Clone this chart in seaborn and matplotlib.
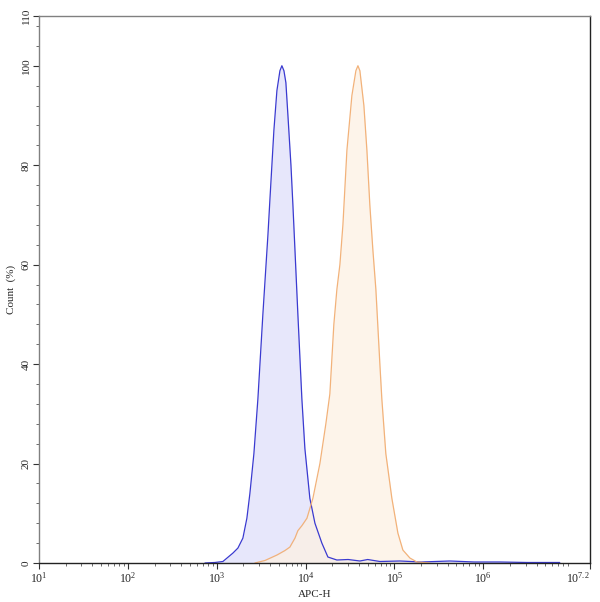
import numpy as np
import pandas as pd
import matplotlib
matplotlib.use("Agg")
import matplotlib.pyplot as plt
import matplotlib.ticker as mticker
import seaborn as sns

# log10(APC-H) positions and Count (%)
blue_log = [2.868, 2.980, 3.070, 3.183, 3.239, 3.295, 3.340, 3.374, 3.419, 3.464,
            3.520, 3.577, 3.599, 3.644, 3.678, 3.712, 3.734, 3.757, 3.779, 3.802,
            3.836, 3.858, 3.881, 3.914, 3.959, 3.993, 4.049, 4.106, 4.184, 4.252,
            4.353, 4.480, 4.612, 4.700, 4.837, 5.062, 5.300, 5.625, 5.900, 6.187,
            6.500, 6.862]
blue_count = [0.0, 0.1, 0.3, 2.0, 3.0, 5.0, 9.0, 14.0, 22.0, 33.0,
              50.0, 66.0, 73.0, 87.0, 95.0, 99.0, 100.0, 99.0, 96.6, 90.0,
              80.0, 72.0, 63.0, 50.0, 33.0, 23.0, 13.0, 8.0, 4.0, 1.2,
              0.6, 0.7, 0.4, 0.7, 0.3, 0.4, 0.2, 0.4, 0.2, 0.2,
              0.1, 0.1]

orange_log = [3.430, 3.543, 3.678, 3.768, 3.824, 3.881, 3.914, 3.959, 4.016, 4.083,
              4.162, 4.229, 4.274, 4.319, 4.353, 4.387, 4.421, 4.466, 4.522, 4.567,
              4.590, 4.612, 4.657, 4.691, 4.724, 4.758, 4.792, 4.837, 4.859, 4.904,
              4.972, 5.040, 5.096, 5.175, 5.254, 5.400]
orange_count = [0.0, 0.5, 1.6, 2.5, 3.2, 5.0, 6.5, 7.5, 9.0, 13.0,
                20.0, 28.0, 34.0, 48.0, 55.0, 60.0, 68.0, 83.0, 94.0, 99.0,
                100.0, 99.0, 92.0, 83.0, 72.0, 63.0, 55.0, 40.0, 33.0, 22.0,
                13.0, 6.0, 2.6, 1.0, 0.2, 0.0]

y_ticks = [0, 20, 40, 60, 80, 100, 110]
x_decades = [1, 2, 3, 4, 5, 6, 7.2]

sns.set_style("white")
plt.rcParams['font.family'] = ['Liberation Serif', 'DejaVu Serif']
plt.rcParams['mathtext.fontset'] = 'custom'
plt.rcParams['mathtext.rm'] = 'Liberation Serif'
plt.rcParams['mathtext.it'] = 'Liberation Serif:italic'

blue = pd.DataFrame({'apc': np.power(10.0, blue_log), 'count': blue_count})
orange = pd.DataFrame({'apc': np.power(10.0, orange_log), 'count': orange_count})

fig = plt.figure(figsize=(6, 6.02), dpi=100)
ax = fig.add_axes([0.065, 0.0648, 0.918, 0.9086])

ax.fill_between(blue['apc'], blue['count'], color='#e3e3fb', alpha=0.85, lw=0)
ax.fill_between(orange['apc'], orange['count'], color='#fdf1e3', alpha=0.75, lw=0)
sns.lineplot(data=blue, x='apc', y='count', ax=ax, color='#3a3ad0', lw=0.9)
sns.lineplot(data=orange, x='apc', y='count', ax=ax, color='#f2b27a', lw=0.9)

ax.set_xscale('log')
ax.set_xlim(10, 10 ** 7.2)
ax.set_ylim(0, 110)

ax.set_xticks([10 ** d for d in x_decades])
ax.set_xticklabels([r'$10^{%s}$' % (int(d) if d == int(d) else d) for d in x_decades])
ax.xaxis.set_minor_locator(mticker.LogLocator(base=10, subs=np.arange(2, 10), numticks=20))
ax.xaxis.set_minor_formatter(mticker.NullFormatter())

ax.set_yticks(y_ticks)
ax.set_yticklabels([str(v) for v in y_ticks], rotation=90, va='center')
ax.yaxis.set_minor_locator(mticker.MultipleLocator(4))

# seaborn "white" hides ticks, switch them back on
ax.tick_params(axis='both', which='both', bottom=True, left=True, top=False, right=False)
ax.tick_params(axis='both', which='major', direction='out', length=4, width=0.8,
               labelsize=8, pad=2, color='#333333')
ax.tick_params(axis='x', which='major', labelsize=8.5)
ax.tick_params(axis='both', which='minor', direction='out', length=2, width=0.6,
               color='#555555')
# keep the last x label inside the figure
ax.get_xticklabels()[-1].set_horizontalalignment('right')
ax.get_xticklabels()[-1].set_x(10 ** 7.2)

ax.set_xlabel('APC-H', fontsize=8, labelpad=3)
ax.set_ylabel('Count  (%)', fontsize=8, labelpad=4)

ax.spines['left'].set_color('#808080')
ax.spines['top'].set_color('#808080')
ax.spines['bottom'].set_color('#222222')
ax.spines['right'].set_color('#222222')
for s in ax.spines.values():
    s.set_linewidth(1.0)

fig.savefig('out.png', dpi=100)
